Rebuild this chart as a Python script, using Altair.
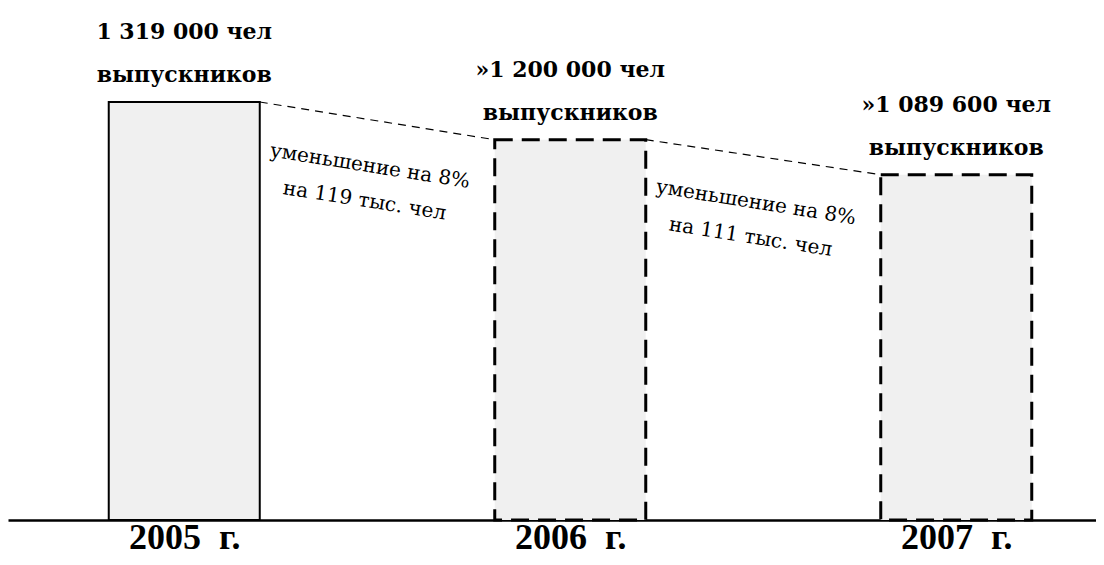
import altair as alt
import pandas as pd

# ---- data ----
years = [2005, 2006, 2007]
values = [1319000, 1200000, 1089600]
estimated = [False, True, True]
label_line1 = ["1 319 000 чел", "»1 200 000 чел", "»1 089 600 чел"]
label_line2 = ["выпускников", "выпускников", "выпускников"]

seg_from = [2005, 2006]
seg_to = [2006, 2007]
seg_from_val = [1319000, 1200000]
seg_to_val = [1200000, 1089600]
seg_text = ["уменьшение на 8%\nна 119 тыс. чел", "уменьшение на 8%\nна 111 тыс. чел"]

HALF = 0.1956  # half bar width in year units
AXIS_FONT = "Liberation Serif"
MARK_FONT = "DejaVu Serif"

bars_df = pd.DataFrame({"year": years, "value": values, "est": estimated,
                        "l1": label_line1, "l2": label_line2})
seg_df = pd.DataFrame({"from": seg_from, "to": seg_to,
                       "v0": seg_from_val, "v1": seg_to_val, "txt": seg_text})

xscale = alt.Scale(domain=[2004.54339, 2007.36205], nice=False, zero=False)
yscale = alt.Scale(domain=[0, 1615617], nice=False, zero=False)

nb = "\u00a0"
base = alt.Chart(bars_df).transform_calculate(
    x0=f"datum.year - {HALF}", x1=f"datum.year + {HALF}"
)

bars_solid = base.transform_filter("!datum.est").mark_rect(
    fill="#f0f0f0", stroke="black", strokeWidth=2
).encode(
    x=alt.X("x0:Q", scale=xscale, title=None,
            axis=alt.Axis(values=years, ticks=False, grid=False,
                          domain=True, domainColor="black", domainWidth=2.5,
                          labelExpr=f"format(datum.value, 'd') + '{nb}{nb}г.'",
                          labelFont=AXIS_FONT, labelFontSize=36, labelFontWeight="bold",
                          labelColor="black", labelBaseline="alphabetic",
                          labelPadding=28, labelOverlap=False, labelFlush=False,
                          labelBound=False)),
    x2="x1:Q",
    y=alt.Y("value:Q", scale=yscale, axis=None),
    y2=alt.datum(0),
)

bars_dash = base.transform_filter("datum.est").mark_rect(
    fill="#f0f0f0", stroke="black", strokeWidth=3, strokeDash=[18, 9]
).encode(
    x=alt.X("x0:Q", scale=xscale),
    x2="x1:Q",
    y=alt.Y("value:Q", scale=yscale),
    y2=alt.datum(0),
)

segs = alt.Chart(seg_df).transform_calculate(
    xa=f"datum['from'] + {HALF}", xb=f"datum['to'] - {HALF}"
).mark_rule(color="black", strokeWidth=1.2, strokeDash=[8, 6]).encode(
    x=alt.X("xa:Q", scale=xscale),
    x2="xb:Q",
    y=alt.Y("v0:Q", scale=yscale),
    y2="v1:Q",
)

notes = alt.Chart(seg_df).transform_calculate(
    xm="(datum['from'] + datum['to']) / 2", ym="(datum.v0 + datum.v1) / 2"
).mark_text(font=MARK_FONT, fontSize=20, angle=9, dy=46, align="center",
            baseline="middle", lineBreak="\n", lineHeight=35, color="black").encode(
    x=alt.X("xm:Q", scale=xscale),
    y=alt.Y("ym:Q", scale=yscale),
    text="txt:N",
)

lab1 = alt.Chart(bars_df).mark_text(font=MARK_FONT, fontSize=22, fontWeight="bold",
                                    align="center", baseline="alphabetic", dy=-63,
                                    color="black").encode(
    x=alt.X("year:Q", scale=xscale), y=alt.Y("value:Q", scale=yscale), text="l1:N")
lab2 = alt.Chart(bars_df).mark_text(font=MARK_FONT, fontSize=22, fontWeight="bold",
                                    align="center", baseline="alphabetic", dy=-20,
                                    color="black").encode(
    x=alt.X("year:Q", scale=xscale), y=alt.Y("value:Q", scale=yscale), text="l2:N")

chart = alt.layer(bars_solid, bars_dash, segs, notes, lab1, lab2).properties(
    width=1088, height=512,
    autosize=alt.AutoSizeParams(type="none"),
    padding={"left": 0, "top": 0, "right": 0, "bottom": 37},
    background="white",
).configure_view(stroke=None)

chart.save("out.html", embed_options={"renderer": "svg", "actions": False})
